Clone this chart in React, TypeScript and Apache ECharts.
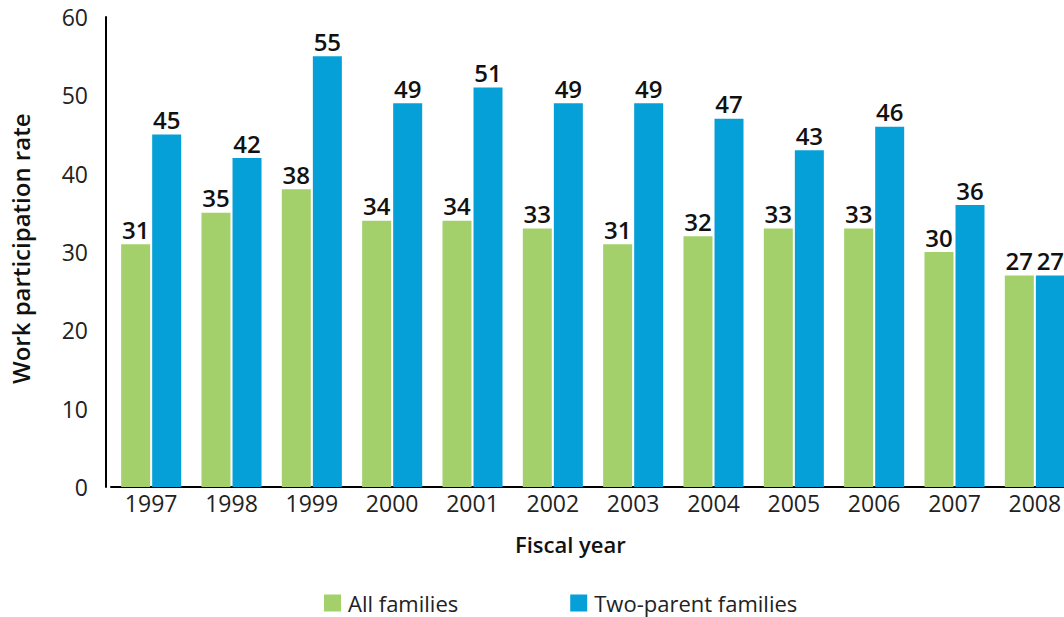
import React, { useEffect, useRef } from "react";
import * as echarts from "echarts";

const years = ["1997", "1998", "1999", "2000", "2001", "2002", "2003", "2004", "2005", "2006", "2007", "2008"];
const allFamilies = [31, 35, 38, 34, 34, 33, 31, 32, 33, 33, 30, 27];
const twoParent = [45, 42, 55, 49, 51, 49, 49, 47, 43, 46, 36, 27];
const yTicks = { min: 0, max: 60, interval: 10 };

const FONT = "'Open Sans', 'Noto Sans', sans-serif";

export default function App() {
  const ref = useRef<HTMLDivElement>(null);
  useEffect(() => {
    if (!ref.current) return;
    const chart = echarts.init(ref.current, null, { renderer: "svg" });
    const label = {
      show: true,
      position: "top",
      distance: 3,
      color: "#111",
      fontSize: 24,
      fontWeight: 600,
      fontFamily: FONT,
    };
    chart.setOption({
      animation: false,
      textStyle: { fontFamily: FONT },
      grid: { left: 111, width: 964, top: 17, bottom: 130, containLabel: false },
      xAxis: {
        type: "category",
        data: years,
        axisLine: { show: true, lineStyle: { color: "#000", width: 2 } },
        axisTick: { show: false },
        axisLabel: { color: "#222", fontSize: 23, margin: 4, fontFamily: FONT },
      },
      yAxis: {
        type: "value",
        min: yTicks.min,
        max: yTicks.max,
        interval: yTicks.interval,
        offset: 5,
        axisLine: { show: true, lineStyle: { color: "#000", width: 2 } },
        axisTick: { show: false },
        splitLine: { show: false },
        axisLabel: { color: "#222", fontSize: 23, margin: 18, fontFamily: FONT },
      },
      legend: {
        left: 324,
        top: 592,
        padding: 0,
        itemWidth: 17,
        itemHeight: 17,
        itemGap: 112,
        icon: "rect",
        textStyle: { fontSize: 22, color: "#222", fontFamily: FONT, padding: [0, 0, 0, 2] },
        data: ["All families", "Two-parent families"],
      },
      graphic: [
        {
          type: "text",
          left: 515,
          top: 533,
          style: { text: "Fiscal year", fontSize: 22, fontWeight: 600, fill: "#111", fontFamily: FONT },
        },
        {
          type: "text",
          x: 8,
          y: 384,
          rotation: Math.PI / 2,
          style: {
            text: "Work participation rate",
            fontSize: 24,
            fontWeight: 600,
            fill: "#111",
            fontFamily: FONT,
          },
        },
      ],
      series: [
        {
          name: "All families",
          type: "bar",
          data: allFamilies,
          barWidth: 29,
          barGap: "7%",
          itemStyle: { color: "#A3D06B" },
          label,
        },
        {
          name: "Two-parent families",
          type: "bar",
          data: twoParent,
          barWidth: 29,
          itemStyle: { color: "#05A0D8" },
          label,
        },
      ],
    });
    return () => chart.dispose();
  }, []);
  return (
    <div
      style={{
        position: "fixed",
        left: 0,
        top: 0,
        width: 1064,
        height: 617,
        overflow: "hidden",
        background: "#fff",
      }}
    >
      <div ref={ref} style={{ width: 1100, height: 617 }} />
    </div>
  );
}
